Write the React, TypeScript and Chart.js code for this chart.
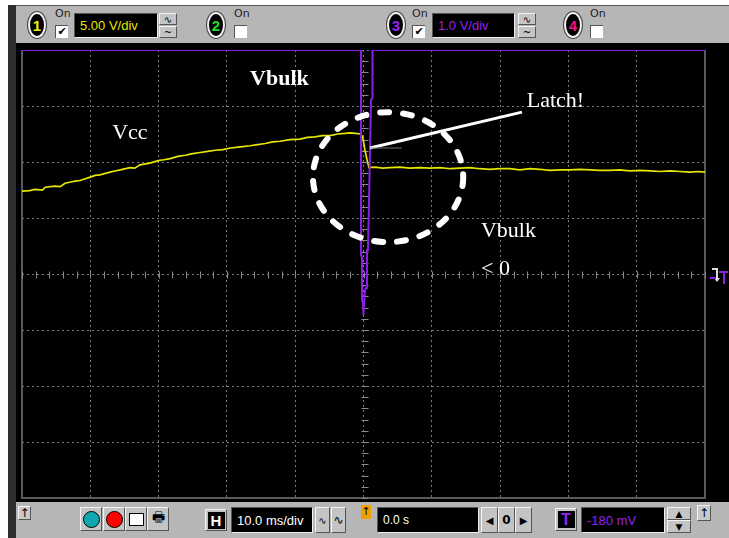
import React, { useEffect, useRef } from "react";
import { Chart, registerables } from "chart.js";

Chart.register(...registerables);

// Time axis in ms (10 ms/div, 10 divisions), vertical in divisions (8 divisions)
const timeTicks = [-50, -40, -30, -20, -10, 0, 10, 20, 30, 40, 50];
const divTicks = [-4, -3, -2, -1, 0, 1, 2, 3, 4];

// Channel 1 (Vcc, yellow)
const vccTime = [
  -50, -48.9, -48.1, -47.0, -46.6, -45.2, -44.4, -43.7, -42.2, -41.5,
  -40.0, -39.3, -38.6, -37.1, -36.4, -35.6, -34.2, -33.5, -32.7, -31.3,
  -29.9, -29.2, -28.3, -27.2, -26.1, -25.0, -23.9, -22.8, -21.7, -20.6,
  -19.5, -18.0, -16.6, -15.5, -14.4, -13.3, -12.2, -10.8, -9.3, -8.2,
  -7.1, -6.0, -4.9, -3.8, -2.7, -1.9, -1.2, -0.4, -0.1, 0.2,
  0.5, 0.8, 1.7, 2.8, 3.9, 5.3, 6.8, 8.2, 9.7, 11.2,
  12.7, 14.1, 15.6, 17.0, 18.5, 20.0, 21.4, 22.9, 24.4, 25.8,
  27.3, 28.8, 30.2, 31.7, 33.2, 34.6, 36.1, 37.5, 39.0, 40.5,
  42.0, 43.4, 44.9, 46.3, 47.8, 49.0, 50,
];
const vccLevel = [
  1.48, 1.49, 1.51, 1.50, 1.55, 1.57, 1.56, 1.62, 1.66, 1.67,
  1.73, 1.76, 1.77, 1.82, 1.84, 1.86, 1.90, 1.89, 1.95, 1.98,
  2.03, 2.04, 2.06, 2.10, 2.12, 2.15, 2.17, 2.19, 2.21, 2.22,
  2.25, 2.27, 2.29, 2.31, 2.33, 2.36, 2.37, 2.40, 2.41, 2.44,
  2.45, 2.47, 2.47, 2.50, 2.51, 2.52, 2.51, 2.50, 2.44, 2.22,
  2.05, 1.90, 1.91, 1.89, 1.90, 1.91, 1.89, 1.90, 1.89, 1.90,
  1.88, 1.89, 1.90, 1.88, 1.87, 1.88, 1.88, 1.86, 1.88, 1.87,
  1.85, 1.86, 1.86, 1.87, 1.86, 1.85, 1.85, 1.86, 1.84, 1.85,
  1.84, 1.83, 1.84, 1.83, 1.82, 1.83, 1.82,
];

// Channel 3 (Vbulk, purple) - clipped at the top of the screen
const bulkTime = [
  -50, -0.37, -0.37, -0.22, -0.22, -0.07, -0.07, 0.07, 0.22, 0.37,
  0.51, 0.66, 0.81, 0.95, 1.1, 1.32, 1.32, 50,
];
const bulkLevel = [
  4, 4, 0.34, 0.29, -0.46, -0.52, -0.73, -0.68, -0.29, -0.25,
  0.43, 0.43, 1.32, 1.32, 3.11, 3.14, 4, 4,
];

const labels = [
  { text: "Vbulk", t: -16.6, v: 3.48, bold: true },
  { text: "Vcc", t: -36.8, v: 2.52, bold: false },
  { text: "Latch!", t: 23.9, v: 3.09, bold: false },
  { text: "Vbulk", t: 17.2, v: 0.77, bold: false },
  { text: "< 0", t: 17.2, v: 0.09, bold: false },
];

const scopePlugin = {
  id: "scope",
  beforeDraw(chart: any) {
    const { ctx, width, height } = chart;
    ctx.save();
    ctx.fillStyle = "#000";
    ctx.fillRect(0, 0, width, height);
    ctx.restore();
  },
  beforeDatasetsDraw(chart: any) {
    const { ctx, chartArea: a, scales } = chart;
    const x = scales.x;
    const y = scales.y;
    ctx.save();
    // frame
    ctx.strokeStyle = "#5a5a5a";
    ctx.lineWidth = 2;
    ctx.beginPath();
    ctx.moveTo(a.left, a.top);
    ctx.lineTo(a.left, a.bottom);
    ctx.lineTo(a.right, a.bottom);
    ctx.lineTo(a.right, a.top);
    ctx.stroke();
    // center axis minor ticks
    ctx.strokeStyle = "#8a8a8a";
    ctx.lineWidth = 1;
    const y0 = Math.round(y.getPixelForValue(0)) + 0.5;
    const x0 = Math.round(x.getPixelForValue(0)) + 0.5;
    for (let t = -50; t <= 50; t += 2) {
      const px = Math.round(x.getPixelForValue(t)) + 0.5;
      ctx.beginPath();
      ctx.moveTo(px, y0 - 3);
      ctx.lineTo(px, y0 + 4);
      ctx.stroke();
    }
    for (let v = -4; v <= 4; v += 0.2) {
      const py = Math.round(y.getPixelForValue(v)) + 0.5;
      ctx.beginPath();
      ctx.moveTo(x0 - 3, py);
      ctx.lineTo(x0 + 4, py);
      ctx.stroke();
    }
    ctx.restore();
  },
  afterDatasetsDraw(chart: any) {
    const { ctx, scales } = chart;
    const x = scales.x;
    const y = scales.y;
    ctx.save();
    // latch pointer
    ctx.strokeStyle = "#fff";
    ctx.lineWidth = 3;
    ctx.beginPath();
    ctx.moveTo(x.getPixelForValue(0.95), y.getPixelForValue(2.25));
    ctx.lineTo(x.getPixelForValue(23.2), y.getPixelForValue(2.89));
    ctx.stroke();
    ctx.strokeStyle = "#777";
    ctx.lineWidth = 1;
    ctx.beginPath();
    ctx.moveTo(x.getPixelForValue(1.0), y.getPixelForValue(2.25));
    ctx.lineTo(x.getPixelForValue(5.6), y.getPixelForValue(2.25));
    ctx.stroke();
    // dashed ellipse
    const cx = x.getPixelForValue(3.6);
    const cy = y.getPixelForValue(1.73);
    const rx = x.getPixelForValue(3.6 + 11) - cx;
    const ry = cy - y.getPixelForValue(1.73 + 1.16);
    ctx.strokeStyle = "#fff";
    ctx.lineWidth = 6;
    ctx.lineCap = "round";
    ctx.setLineDash([9, 14]);
    ctx.beginPath();
    ctx.ellipse(cx, cy, rx, ry, 0, 0, Math.PI * 2);
    ctx.stroke();
    ctx.setLineDash([]);
    ctx.lineCap = "butt";
    // text labels
    ctx.fillStyle = "#fff";
    ctx.textBaseline = "middle";
    ctx.textAlign = "left";
    for (const l of labels) {
      ctx.font = (l.bold ? "bold " : "") + "22px 'Liberation Serif', 'Times New Roman', serif";
      ctx.fillText(l.text, x.getPixelForValue(l.t), y.getPixelForValue(l.v));
    }
    // trigger level marker
    const tx = chart.chartArea.right + 5;
    const ty = y.getPixelForValue(0);
    ctx.strokeStyle = "#ddd";
    ctx.lineWidth = 2;
    ctx.beginPath();
    ctx.moveTo(tx + 2, ty - 5);
    ctx.lineTo(tx + 7, ty - 5);
    ctx.lineTo(tx + 7, ty + 5);
    ctx.stroke();
    ctx.fillStyle = "#ddd";
    ctx.beginPath();
    ctx.moveTo(tx + 4, ty + 4);
    ctx.lineTo(tx + 10, ty + 4);
    ctx.lineTo(tx + 7, ty + 8);
    ctx.fill();
    ctx.strokeStyle = "#8c1fe6";
    ctx.beginPath();
    ctx.moveTo(tx + 9, ty - 2);
    ctx.lineTo(tx + 18, ty - 2);
    ctx.moveTo(tx + 14, ty - 2);
    ctx.lineTo(tx + 14, ty + 10);
    ctx.moveTo(tx, ty + 4);
    ctx.lineTo(tx + 6, ty + 4);
    ctx.stroke();
    ctx.restore();
  },
};

const grayBg = "#b6b6b6";

const bevel: React.CSSProperties = {
  position: "absolute",
  background: "#c4c4c4",
  borderTop: "1px solid #f4f4f4",
  borderLeft: "1px solid #f4f4f4",
  borderRight: "1px solid #555",
  borderBottom: "1px solid #555",
  boxSizing: "border-box",
  display: "flex",
  alignItems: "center",
  justifyContent: "center",
  fontFamily: "'DejaVu Sans', sans-serif",
  color: "#000",
};

const blackBox: React.CSSProperties = {
  position: "absolute",
  background: "#000",
  borderTop: "1px solid #555",
  borderLeft: "1px solid #555",
  borderRight: "1px solid #eee",
  borderBottom: "1px solid #eee",
  boxSizing: "border-box",
  display: "flex",
  alignItems: "center",
  paddingLeft: 5,
  fontFamily: "'Liberation Sans', Arial, sans-serif",
  fontSize: 13,
};

function Badge({ x, n, color }: { x: number; n: string; color: string }) {
  return (
    <div
      style={{
        position: "absolute",
        left: x,
        top: 12,
        width: 14,
        height: 22,
        borderRadius: "50%",
        background: "#000",
        border: "2px solid #f0f0f0",
        boxShadow: "0 0 0 1px #444",
        color,
        fontFamily: "'Liberation Sans', Arial, sans-serif",
        fontWeight: "bold",
        fontSize: 15,
        display: "flex",
        alignItems: "center",
        justifyContent: "center",
      }}
    >
      {n}
    </div>
  );
}

function OnBox({ x, checked }: { x: number; checked: boolean }) {
  return (
    <>
      <div
        style={{
          position: "absolute",
          left: x,
          top: 8,
          fontFamily: "'DejaVu Sans', sans-serif",
          fontSize: 11,
          color: "#222",
          lineHeight: "12px",
        }}
      >
        On
      </div>
      <div
        style={{
          position: "absolute",
          left: x,
          top: 25,
          width: 13,
          height: 13,
          background: "#fff",
          borderTop: "1px solid #555",
          borderLeft: "1px solid #555",
          boxSizing: "border-box",
          fontSize: 11,
          lineHeight: "11px",
          textAlign: "center",
          color: "#000",
          fontFamily: "'DejaVu Sans', sans-serif",
        }}
      >
        {checked ? "✔" : ""}
      </div>
    </>
  );
}

function WaveButtons({ x }: { x: number }) {
  return (
    <>
      <div style={{ ...bevel, left: x, top: 13, width: 18, height: 12, fontSize: 10 }}>∿</div>
      <div style={{ ...bevel, left: x, top: 26, width: 18, height: 12, fontSize: 10 }}>~</div>
    </>
  );
}

export default function App() {
  const ref = useRef<HTMLCanvasElement | null>(null);

  useEffect(() => {
    document.body.style.margin = "0";
    if (!ref.current) return;
    const chart = new Chart(ref.current, {
      type: "line",
      data: {
        datasets: [
          {
            label: "Vbulk",
            data: bulkTime.map((t, i) => ({ x: t, y: bulkLevel[i] })),
            borderColor: "#8c1fe6",
            borderWidth: 2,
            pointRadius: 0,
            tension: 0,
            fill: false,
          },
          {
            label: "Vcc",
            data: vccTime.map((t, i) => ({ x: t, y: vccLevel[i] })),
            borderColor: "#e6e600",
            borderWidth: 1.7,
            pointRadius: 0,
            tension: 0,
            fill: false,
          },
        ],
      },
      options: {
        animation: false,
        responsive: false,
        maintainAspectRatio: false,
        layout: { padding: { left: 6, top: 7, right: 24, bottom: 4 } },
        plugins: { legend: { display: false }, tooltip: { enabled: false } },
        scales: {
          x: {
            type: "linear",
            min: -50,
            max: 50,
            afterBuildTicks: (s: any) => {
              s.ticks = timeTicks.map((v) => ({ value: v }));
            },
            ticks: { display: false },
            grid: { color: "#7a7a7a", lineWidth: 1, drawTicks: false },
            border: { display: false, dash: [2, 3] },
          },
          y: {
            type: "linear",
            min: -4,
            max: 4,
            afterBuildTicks: (s: any) => {
              s.ticks = divTicks.map((v) => ({ value: v }));
            },
            ticks: { display: false },
            grid: { color: "#7a7a7a", lineWidth: 1, drawTicks: false },
            border: { display: false, dash: [2, 3] },
          },
        },
      },
      plugins: [scopePlugin],
    } as any);
    return () => chart.destroy();
  }, []);

  return (
    <div style={{ position: "relative", width: 729, height: 538, background: "#fff", overflow: "hidden" }}>
      {/* left dark strip */}
      <div style={{ position: "absolute", left: 8, top: 5, width: 8, height: 533, background: "#2e2e2e" }} />
      {/* top toolbar */}
      <div style={{ position: "absolute", left: 16, top: 5, width: 713, height: 38, background: grayBg, borderTop: "1px solid #555", boxSizing: "border-box" }} />
      <Badge x={28} n="1" color="#f0f000" />
      <OnBox x={55} checked={true} />
      <div style={{ ...blackBox, left: 74, top: 13, width: 84, height: 25, color: "#e6e600" }}>5.00 V/div</div>
      <WaveButtons x={159} />
      <Badge x={207} n="2" color="#22dd22" />
      <OnBox x={234} checked={false} />
      <Badge x={387} n="3" color="#9a22ee" />
      <OnBox x={412} checked={true} />
      <div style={{ ...blackBox, left: 432, top: 13, width: 83, height: 25, color: "#9a22ee" }}>1.0 V/div</div>
      <WaveButtons x={518} />
      <Badge x={564} n="4" color="#ee1188" />
      <OnBox x={590} checked={false} />

      {/* scope screen */}
      <canvas ref={ref} width={713} height={459} style={{ position: "absolute", left: 16, top: 43, width: 713, height: 459 }} />

      {/* bottom toolbar */}
      <div style={{ position: "absolute", left: 16, top: 502, width: 713, height: 36, background: grayBg }} />
      <div style={{ ...bevel, left: 18, top: 506, width: 13, height: 14, fontSize: 12, background: "#c8c8c8" }}>↑</div>
      <div style={{ ...bevel, left: 80, top: 507, width: 22, height: 24 }}>
        <div style={{ width: 15, height: 15, borderRadius: "50%", background: "#10a8b0", border: "1px solid #000" }} />
      </div>
      <div style={{ ...bevel, left: 103, top: 507, width: 22, height: 24 }}>
        <div style={{ width: 15, height: 15, borderRadius: "50%", background: "#ff0000", border: "1px solid #000" }} />
      </div>
      <div style={{ ...bevel, left: 125, top: 507, width: 22, height: 24 }}>
        <div style={{ width: 13, height: 11, background: "#fff", border: "1px solid #000" }} />
      </div>
      <div style={{ ...bevel, left: 147, top: 507, width: 22, height: 24, fontSize: 14 }}>🖶</div>
      <div style={{ ...bevel, left: 205, top: 509, width: 22, height: 22 }}>
        <div style={{ width: 17, height: 17, background: "#000", color: "#fff", fontWeight: "bold", fontSize: 15, display: "flex", alignItems: "center", justifyContent: "center", fontFamily: "'Liberation Sans', Arial, sans-serif" }}>H</div>
      </div>
      <div style={{ ...blackBox, left: 231, top: 507, width: 82, height: 26, color: "#fff" }}>10.0 ms/div</div>
      <div style={{ ...bevel, left: 315, top: 507, width: 15, height: 26, fontSize: 10 }}>∿</div>
      <div style={{ ...bevel, left: 331, top: 507, width: 15, height: 26, fontSize: 12 }}>∿</div>
      <div style={{ position: "absolute", left: 361, top: 505, width: 10, height: 14, background: "#f0a000", fontSize: 11, textAlign: "center", lineHeight: "14px", fontFamily: "'DejaVu Sans', sans-serif" }}>↑</div>
      <div style={{ ...blackBox, left: 377, top: 507, width: 102, height: 26, color: "#fff", fontSize: 12 }}>0.0 s</div>
      <div style={{ ...bevel, left: 481, top: 507, width: 17, height: 26, fontSize: 10 }}>◀</div>
      <div style={{ ...bevel, left: 498, top: 507, width: 17, height: 26, fontSize: 12, fontWeight: "bold" }}>0</div>
      <div style={{ ...bevel, left: 515, top: 507, width: 17, height: 26, fontSize: 10 }}>▶</div>
      <div style={{ ...bevel, left: 555, top: 508, width: 22, height: 23 }}>
        <div style={{ width: 17, height: 17, background: "#000", color: "#9a22ee", fontWeight: "bold", fontSize: 16, display: "flex", alignItems: "center", justifyContent: "center", fontFamily: "'Liberation Sans', Arial, sans-serif" }}>T</div>
      </div>
      <div style={{ ...blackBox, left: 581, top: 507, width: 84, height: 26, color: "#9a22ee" }}>-180 mV</div>
      <div style={{ ...bevel, left: 667, top: 507, width: 24, height: 13, fontSize: 9 }}>▲</div>
      <div style={{ ...bevel, left: 667, top: 520, width: 24, height: 13, fontSize: 9 }}>▼</div>
      <div style={{ ...bevel, left: 697, top: 505, width: 14, height: 16, fontSize: 12, background: "#c8c8c8" }}>↑</div>
    </div>
  );
}
